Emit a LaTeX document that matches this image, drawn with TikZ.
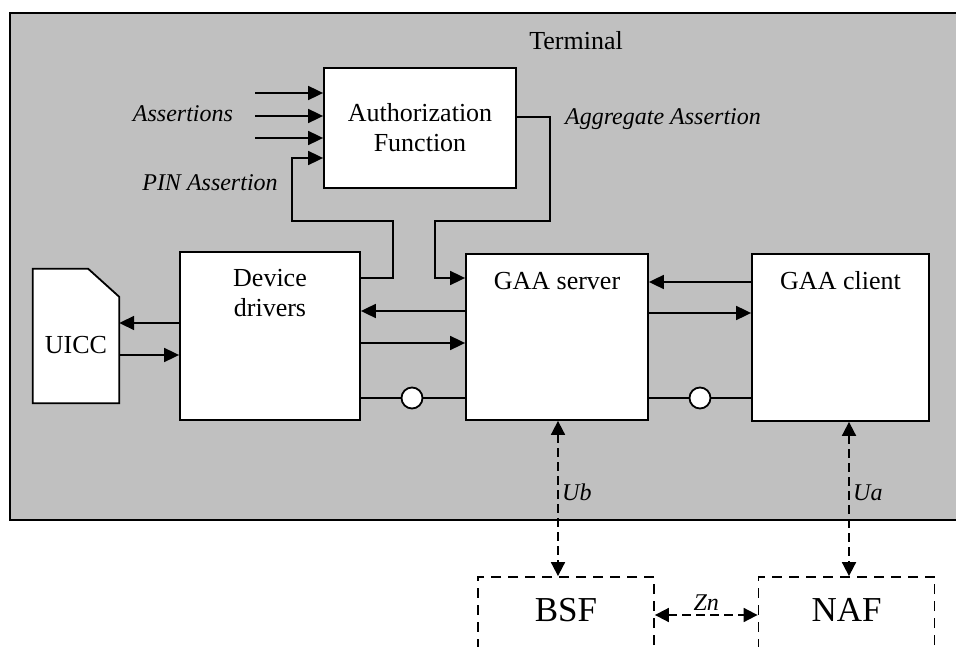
\documentclass[tikz,border=0pt]{standalone}
\usepackage{fontspec}
\setmainfont{Liberation Serif}
\usetikzlibrary{arrows.meta}
\definecolor{terminalGray}{RGB}{192,192,192}

\begin{document}
\begin{tikzpicture}
[x=1pt,y=-1pt,font=\fontsize{26}{30}\selectfont,%
  lineDecorate/.style={-,line width=1.8pt},%
  arrowDecorate/.style={-{Triangle[length=15pt,width=14pt]},line width=1.8pt},%
  dashArrowDecorate/.style={{Triangle[length=14pt,width=14pt]}-{Triangle[length=14pt,width=14pt]},line width=1.8pt,dash pattern=on 9pt off 5pt},%
  nodeDecorate/.style={shape=rectangle,inner sep=0pt,draw,line width=1.8pt,fill=white},%
  dashNodeDecorate/.style={shape=rectangle,inner sep=0pt,draw,line width=1.8pt,dash pattern=on 10pt off 7pt,minimum width=176pt,minimum height=130pt},%
  dotDecorate/.style={shape=circle,inner sep=0pt,minimum size=21pt,draw,line width=1.8pt,fill=white},%
  labelDecorate/.style={font=\fontsize{24}{28}\selectfont\itshape,anchor=base}]
\useasboundingbox (0,0) rectangle (956,647);
\clip (0,0) rectangle (956,647);
%% terminal
\filldraw[fill=terminalGray,line width=1.8pt] (10,13) rectangle (1000,520);
\node (Terminal) at (576,50) [anchor=base] {Terminal};
%% nodes or vertices
\node (Auth) at (420,128) [nodeDecorate,minimum width=192pt,minimum height=120pt,align=center] {Authorization\\Function};
\foreach \nodename/\x/\y/\w/\h/\drop/\txt in {Drivers/270/336/180/168/65/{Device\\drivers}, Server/557/337/182/166/36/{GAA server}, Client/840.5/337.5/177/167/36/{GAA client}}
{
  \node (\nodename) at (\x,\y) [nodeDecorate,minimum width=\w pt,minimum height=\h pt,
    label={[anchor=base,align=center,yshift=-\drop pt]north:\txt}] {};
}
\foreach \nodename/\x in {BSF/566, NAF/846.5}
{
  \node (\nodename) at (\x,642) [dashNodeDecorate,
    label={[anchor=base,yshift=-45pt,font=\fontsize{35}{40}\selectfont]north:\nodename}] {};
}
%% uicc card
\node (UICC) at (76,336) [shape=rectangle,inner sep=0pt,minimum width=86pt,minimum height=134pt] {};
\draw[lineDecorate,fill=white] (UICC.south west) |- ([xshift=-31pt]UICC.north east)
  -- ([yshift=-28pt]UICC.north east) -- (UICC.south east) -- cycle;
\node (UICCtext) at (76,353) [anchor=base] {UICC};
%% labels
\foreach \nodename/\x/\y/\txt in {Assertions/183/122/Assertions, PIN/210/191/PIN Assertion, Aggregate/663/125/Aggregate Assertion}
{
  \node (\nodename) at (\x,\y) [labelDecorate] {\txt};
}
%% edges or lines
\foreach \y in {93,116,138}
{
  \coordinate (in\y) at (255,\y);
  \draw[arrowDecorate] (in\y) -- (Auth.west |- in\y);
}
\draw[arrowDecorate] (Drivers.east |- 0,278) -| (393,221) -| (292,158) -- (Auth.west |- 0,158);
\draw[arrowDecorate] (Auth.east |- 0,117) -| (550,221) -| (435,278) -- (Server.west |- 0,278);
\path
\foreach \startpoint/\endpoint/\y in {Drivers.west/UICC.east/323, UICC.east/Drivers.west/355, Server.west/Drivers.east/311, Drivers.east/Server.west/343, Client.west/Server.east/282, Server.east/Client.west/313}
{
  (\startpoint |- 0,\y) edge[arrowDecorate] (\endpoint |- 0,\y)
};
\foreach \nodename/\x/\startnode/\endnode in {DotA/412/Drivers.east/Server.west, DotB/700/Server.east/Client.west}
{
  \node (\nodename) at (\x,398) [dotDecorate] {};
  \draw[lineDecorate] (\startnode |- \nodename) -- (\nodename) -- (\endnode |- \nodename);
}
\draw[dashArrowDecorate] (558,0 |- Server.south) -- (558,0 |- BSF.north)
  node[pos=0.46,right,labelDecorate,anchor=west] {Ub};
\draw[dashArrowDecorate] (849,0 |- Client.south) -- (849,0 |- NAF.north)
  node[pos=0.46,right,labelDecorate,anchor=west] {Ua};
\draw[dashArrowDecorate] (BSF.east |- 0,615) -- (NAF.west |- 0,615)
  node[midway,above,labelDecorate,anchor=south] {Zn};
\end{tikzpicture}
\end{document}
